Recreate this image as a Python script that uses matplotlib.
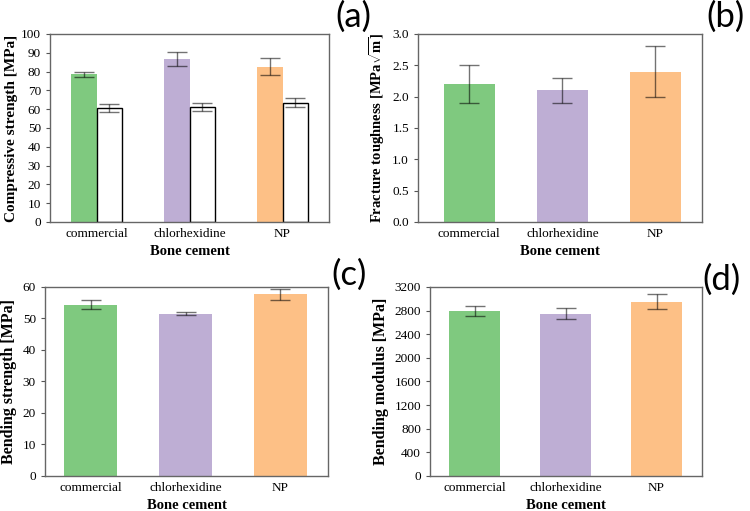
import numpy as np
import matplotlib.pyplot as plt

plt.rcParams['font.family'] = ['Liberation Serif', 'DejaVu Serif']
plt.rcParams['mathtext.fontset'] = 'custom'
plt.rcParams['mathtext.rm'] = 'Liberation Serif:bold'
plt.rcParams['mathtext.it'] = 'Liberation Serif:bold'

cements = ['commercial', 'chlorhexidine', 'NP']
colors = ['#7fc97f', '#beaed4', '#fdc086']

# (a) compressive strength: colored bars and white (second) bars
comp_a = [78.5, 86.5, 82.5]
comp_a_err = [1.3, 3.8, 4.5]
comp_b = [60.5, 61.2, 63.5]
comp_b_err = [2.2, 2.0, 2.3]

# (b) fracture toughness
tough = [2.2, 2.1, 2.4]
tough_err = [0.3, 0.2, 0.4]

# (c) bending strength
bend = [54.3, 51.5, 57.6]
bend_err = [1.4, 0.5, 1.8]

# (d) bending modulus
modulus = [2800, 2745, 2950]
modulus_err = [85, 95, 125]

fig = plt.figure(figsize=(7.5, 5.11), dpi=100)
err_kw = dict(ecolor='black', capsize=7, elinewidth=1.0, capthick=1.0, alpha=0.55)


def style(ax, ylabel, ysize=11, pad=4):
    ax.set_xticks(range(3))
    ax.set_xticklabels(cements, fontsize=9.5)
    ax.tick_params(axis='y', labelsize=9.5, length=3, color='#555555')
    ax.tick_params(axis='x', length=0, pad=4)
    ax.set_xlabel('Bone cement', fontsize=10.5, fontweight='bold')
    ax.set_ylabel(ylabel, fontsize=ysize, fontweight='bold', labelpad=pad)
    for s in ax.spines.values():
        s.set_color('#666666')
        s.set_linewidth(1.0)


x = np.arange(3)

ax = fig.add_axes([0.0667, 0.5656, 0.372, 0.368])
w = 0.27
ax.bar(x - w / 2, comp_a, w, color=colors)
ax.errorbar(x - w / 2, comp_a, yerr=comp_a_err, fmt='none', **err_kw)
ax.bar(x + w / 2, comp_b, w, color='white', edgecolor='black', linewidth=1.0)
ax.errorbar(x + w / 2, comp_b, yerr=comp_b_err, fmt='none', **err_kw)
ax.set_xlim(-0.5, 2.5)
ax.set_ylim(0, 100)
ax.set_yticks(np.arange(0, 101, 10))
style(ax, 'Compressive strength [MPa]', pad=2)

ax = fig.add_axes([0.5573, 0.5656, 0.3787, 0.368])
ax.bar(x, tough, 0.55, color=colors)
ax.errorbar(x, tough, yerr=tough_err, fmt='none', **err_kw)
ax.set_xlim(-0.55, 2.5)
ax.set_ylim(0, 3.0)
ax.set_yticks(np.arange(0, 3.01, 0.5))
ax.set_yticklabels([f'{v:.1f}' for v in np.arange(0, 3.01, 0.5)])
style(ax, r'Fracture toughness [MPa$\sqrt{\mathrm{m}}$]', ysize=10.5)

ax = fig.add_axes([0.06, 0.0685, 0.3773, 0.37])
ax.bar(x, bend, 0.55, color=colors)
ax.errorbar(x, bend, yerr=bend_err, fmt='none', **err_kw)
ax.set_xlim(-0.48, 2.5)
ax.set_ylim(0, 60)
ax.set_yticks(np.arange(0, 61, 10))
style(ax, 'Bending strength [MPa]', ysize=11.5)

ax = fig.add_axes([0.5733, 0.0685, 0.3627, 0.37])
ax.bar(x, modulus, 0.56, color=colors)
ax.errorbar(x, modulus, yerr=modulus_err, fmt='none', **err_kw)
ax.set_xlim(-0.49, 2.5)
ax.set_ylim(0, 3200)
ax.set_yticks(np.arange(0, 3201, 400))
style(ax, 'Bending modulus [MPa]', ysize=11.5)

for lbl, px, py in [('(a)', 0.471, 0.967), ('(b)', 0.967, 0.967),
                    ('(c)', 0.465, 0.462), ('(d)', 0.962, 0.452)]:
    fig.text(px, py, lbl, fontsize=25, family='Lato', ha='center', va='center')

fig.savefig('out.png', dpi=100)
